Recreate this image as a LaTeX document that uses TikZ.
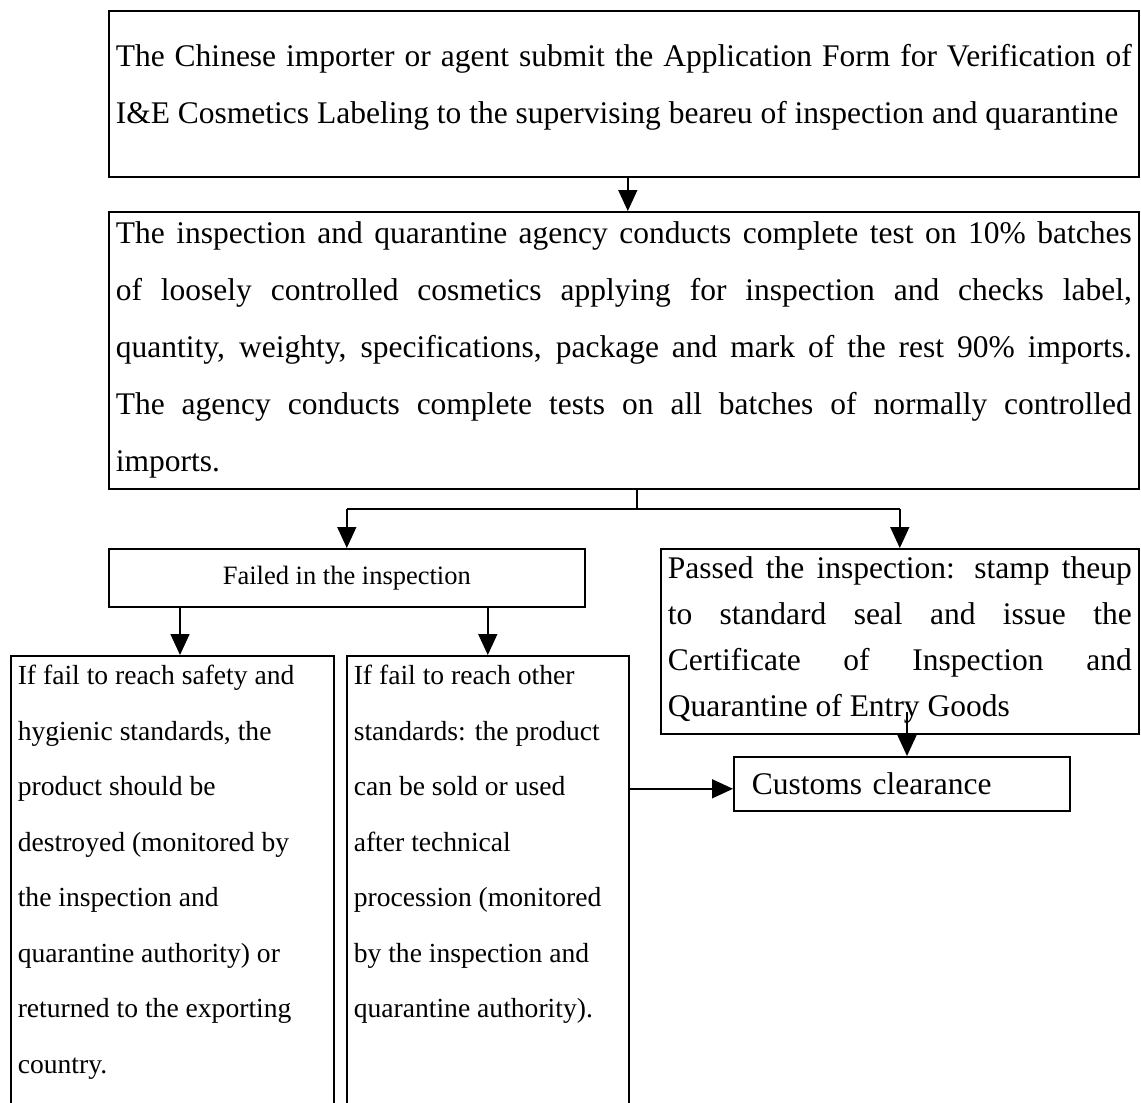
\documentclass[tikz,border=0pt]{standalone}
\usepackage{fontspec}
\setmainfont{Liberation Serif}
\usetikzlibrary{arrows.meta}

% text box: width, height, first baseline, text
\newcommand{\boxpar}[4]{\parbox[t][#2][t]{#1}{\rule{0pt}{#3}#4}}

\begin{document}
\begin{tikzpicture} [
	   x=1pt, y=-1pt,
	   block/.style    = { draw, line width=1.6pt, anchor=north west, inner xsep=7pt, inner ysep=0pt },
	   bigtext/.style  = { font=\fontsize{31.5}{57}\selectfont },
	   smalltext/.style = { font=\fontsize{27.6}{55.5}\selectfont },
	   line/.style     = { draw, line width=1.6pt, -{Triangle[length=21pt,width=19pt]} },
	 ]
	  \useasboundingbox (0,0) rectangle (1141,1103);

	  % the boxes
	  \node [block, bigtext] (apply) at (108,10) {\boxpar{1016pt}{166pt}{56pt}{%
	    The Chinese importer or agent submit the Application Form for Verification of\linebreak
	    I\&E Cosmetics Labeling to the supervising beareu of inspection and quarantine}};
	  \node [block, bigtext] (check) at (108,211) {\boxpar{1016pt}{277pt}{32pt}{%
	    The inspection and quarantine agency conducts complete test on 10\% batches\linebreak
	    of loosely controlled cosmetics applying for inspection and checks label,\linebreak
	    quantity, weighty, specifications, package and mark of the rest 90\% imports.\linebreak
	    The agency conducts complete tests on all batches of normally controlled\linebreak
	    imports.}};
	  \node [block, font=\fontsize{26.5}{40}\selectfont, inner xsep=0pt, minimum width=476pt, minimum height=58pt] (fail) at (108,548) {Failed in the inspection};
	  \node [block, bigtext] (pass) at (660,548) {\boxpar{464pt}{185pt}{30pt}{\baselineskip=46pt
	    Passed the inspection: stamp theup\linebreak
	    to standard seal and issue the\linebreak
	    Certificate of Inspection and\linebreak
	    Quarantine of Entry Goods}};
	  \node [block, smalltext] (destroy) at (10,655) {\boxpar{309pt}{460pt}{29pt}{\raggedright
	    If fail to reach safety and\\
	    hygienic standards, the\\
	    product should be\\
	    destroyed (monitored by\\
	    the inspection and\\
	    quarantine authority) or\\
	    returned to the exporting\\
	    country.}};
	  \node [block, smalltext] (treat) at (346,655) {\boxpar{268pt}{460pt}{29pt}{\raggedright
	    If fail to reach other\\
	    standards: the product\\
	    can be sold or used\\
	    after technical\\
	    procession (monitored\\
	    by the inspection and\\
	    quarantine authority).}};
	  \node [block, bigtext, inner xsep=18pt, text width=300pt, minimum height=54pt, align=left] (customs) at (733,756) {Customs clearance};

	  \coordinate (split) at (637,509);
	  \coordinate (passout) at (907,712);
	  \coordinate (custin) at ([yshift=-5pt]customs.west);

	  % connect all nodes defined above
	  \begin{scope} [every path/.style=line]
		\path ([xshift=4pt]apply.south) -- ([xshift=4pt]check.north);
	%
		\path[-] (check.south -| split) -- (split);
		\path[-] (split -| fail.north) -- (split -| pass.north);
		\path (split -| fail.north) -- (fail.north);
		\path (split -| pass.north) -- (pass.north);
	%
		\path ([xshift=72pt]fail.south west) -- ([xshift=72pt]fail.south west |- destroy.north);
		\path (fail.south -| treat.north) -- (treat.north);
	%
		\path (custin -| treat.east) -- (custin);
		\path (passout) -- (passout |- customs.north);
	  \end{scope}
\end{tikzpicture}
\end{document}
